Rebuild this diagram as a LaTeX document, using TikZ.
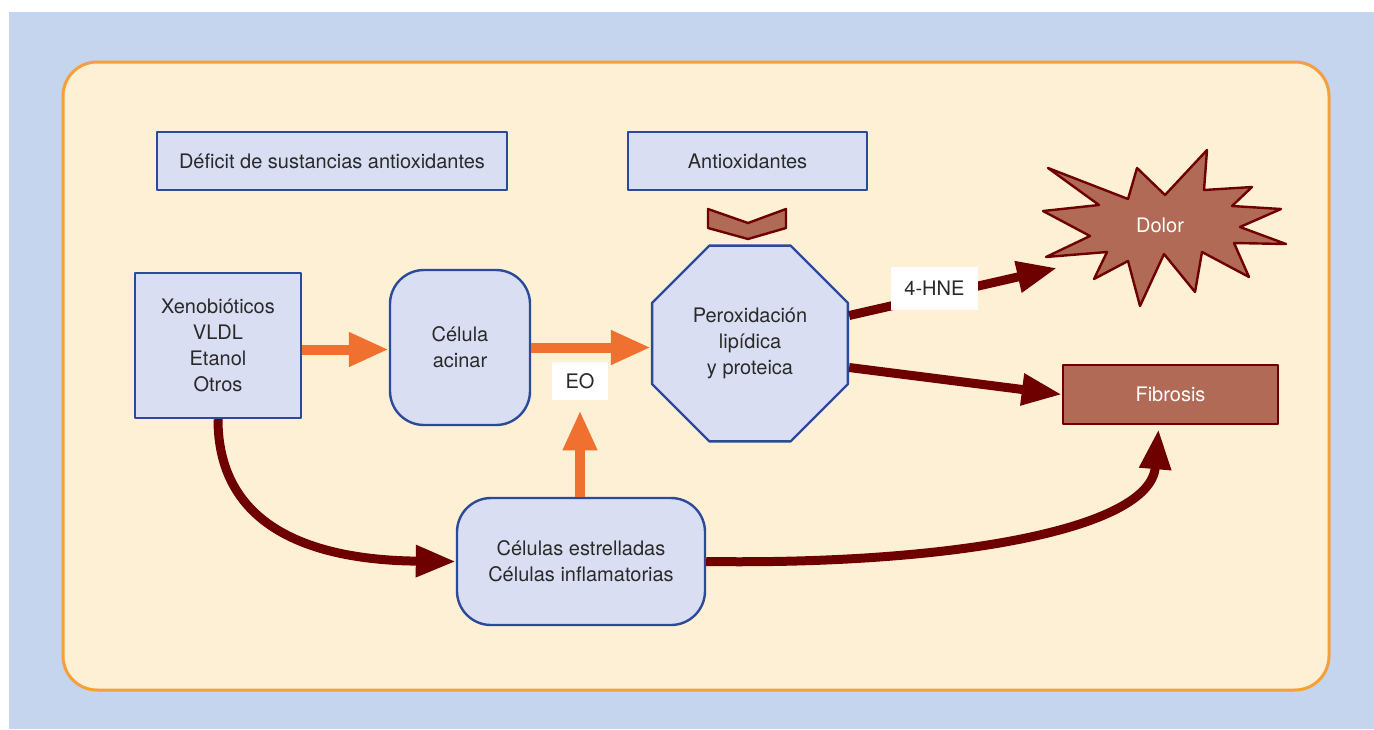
\documentclass[tikz,border=0pt]{standalone}
\usepackage{fontspec}
\setmainfont{TeX Gyre Heros}
\usetikzlibrary{shapes.geometric,arrows.meta}
\definecolor{fondo}{HTML}{C5D5EE}
\definecolor{crema}{HTML}{FEF0D5}
\definecolor{marco}{HTML}{F5A03A}
\definecolor{lila}{HTML}{DADEF2}
\definecolor{borde}{HTML}{2B4A9A}
\definecolor{naranja}{HTML}{F07030}
\definecolor{granate}{HTML}{6E0000}
\definecolor{teja}{HTML}{B06A55}
\definecolor{texto}{HTML}{2A2A2A}

\begin{document}
\begin{tikzpicture}[x=0.5pt, y=0.5pt, font=\fontsize{10}{13}\selectfont, line join=round,
	caja/.style={draw=borde, fill=lila, line width=1.2pt, text=texto, align=center, inner sep=0pt},
	redonda/.style={caja, rounded corners=17pt},
	blanca/.style={fill=white, text=texto, inner sep=0pt},
	flechan/.style={draw=naranja, line width=5pt, -{Triangle[length=20pt, width=16pt]}, shorten >=0pt},
	flechag/.style={draw=granate, line width=4.5pt, -{Triangle[length=20pt, width=15pt]}},
	oscura/.style={fill=teja, draw=granate, line width=1.2pt}]
	\useasboundingbox (0,0) rectangle (1374,-729);
	\fill[white] (0,0) rectangle (1374,-729);
	\fill[fondo] (9,-12) rectangle (1374,-729);
	\draw[fill=crema, draw=marco, line width=1.5pt, rounded corners=17pt] (63,-62) rectangle (1329,-690);

	\node[caja, minimum width=175pt, minimum height=29pt] (deficit) at (332,-161) {Déficit de sustancias antioxidantes};
	\node[caja, minimum width=119.5pt, minimum height=29pt] (antiox) at (747.5,-161) {Antioxidantes};
	\draw[oscura] (708,-209) -- (748,-223) -- (786,-209) -- (786,-228) -- (748,-239) -- (708,-228) -- cycle;

	\node[caja, minimum width=83pt, minimum height=72.5pt] (xeno) at (218,-345.5) {Xenobióticos\\VLDL\\Etanol\\Otros};
	\node[redonda, minimum width=70pt, minimum height=77.5pt] (acinar) at (460,-347.5) {Célula\\acinar};
	\node[caja, regular polygon, regular polygon sides=8, minimum size=106pt] (perox) at (750,-343.5) {Peroxidación\\lipídica\\y proteica};
	\node[redonda, minimum width=124pt, minimum height=63.5pt] (estrell) at (581,-561.5) {Células estrelladas\\Células inflamatorias};
	\node[blanca, minimum width=28pt, minimum height=19pt] (eo) at (580,-381) {EO};
	\node[oscura, text=white, minimum width=107.5pt, minimum height=29.5pt] (fibrosis) at (1170.5,-394.5) {Fibrosis};

	\draw[oscura] (1048,-168) -- (1128,-199) -- (1137,-168) -- (1165,-195) -- (1207,-150) -- (1204,-190)
		-- (1252,-187) -- (1232,-206) -- (1281,-209) -- (1240,-227) -- (1286,-244) -- (1234,-243)
		-- (1249,-277) -- (1202,-252) -- (1195,-292) -- (1164,-254) -- (1140,-306) -- (1128,-261)
		-- (1094,-279) -- (1107,-252) -- (1046,-257) -- (1090,-236) -- (1043,-211) -- (1099,-205) -- cycle;
	\node[text=white] (dolor) at (1160,-225) {Dolor};
	\coordinate (dolorpunta) at (1057,-268);

	\draw[flechan] ([yshift=-1pt]acinar.west -| xeno.east) -- ([yshift=-1pt]acinar.west);
	\draw[flechan] (acinar.east) -- (acinar.east -| perox.west);
	\draw[flechan] (estrell.north -| eo.south) -- ([yshift=-5pt]eo.south);

	\draw[flechag] ([yshift=14pt]perox.east) -- node[blanca, pos=.41, yshift=4pt, minimum width=43.5pt, minimum height=21.5pt] (hne) {4-HNE} (dolorpunta);
	\draw[flechag] ([yshift=-12pt]perox.east) -- (fibrosis.west);
	\draw[flechag] (xeno.south) .. controls (218,-520) and (300,-560) .. (estrell.west);
	\draw[flechag] (estrell.east) .. controls (950,-565) and (1150,-530) .. ([xshift=-6pt,yshift=-2pt]fibrosis.south);
\end{tikzpicture}
\end{document}
